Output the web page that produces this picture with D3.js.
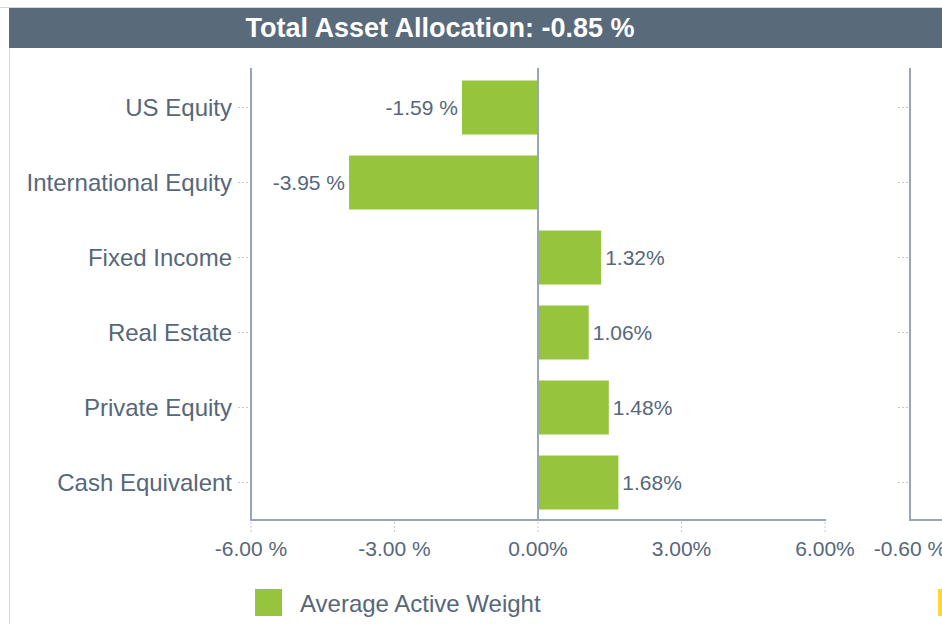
<!DOCTYPE html>
<html>
<head>
<meta charset="utf-8">
<script src="https://cdn.jsdelivr.net/npm/d3@7/dist/d3.min.js"></script>
<style>
  html, body { margin: 0; padding: 0; background: #fff; }
  svg { display: block; font-family: "Liberation Sans", Arial, sans-serif; }
</style>
</head>
<body>
<div id="content"></div>
<script>
const titleText = 'Total Asset Allocation: -0.85 %';
const categories = ['US Equity', 'International Equity', 'Fixed Income', 'Real Estate', 'Private Equity', 'Cash Equivalent'];
const activeWeight = [-1.59, -3.95, 1.32, 1.06, 1.48, 1.68];
const xTicks = [-6, -3, 0, 3, 6];
const rightTicks = [-0.6];
const legendLabel = 'Average Active Weight';

const width = 942, height = 624;
const barColor = '#97c43d';
const axisColor = '#97a6b5';
const textColor = '#56677a';
const dotColor = '#c4c9ce';

// negatives get a space before the % sign, like the original
const pct = d => d < 0 ? d.toFixed(2) + ' %' : d.toFixed(2) + '%';

const svg = d3.select('#content').append('svg')
  .attr('width', width).attr('height', height);

// frame + header
svg.append('line').attr('x1', 0).attr('x2', width).attr('y1', 7.5).attr('y2', 7.5)
  .attr('stroke', '#d3d8dd').attr('stroke-width', 1);
svg.append('line').attr('x1', 9.5).attr('x2', 9.5).attr('y1', 8).attr('y2', height)
  .attr('stroke', '#d3d8dd').attr('stroke-width', 1);
svg.append('rect').attr('x', 9).attr('y', 8).attr('width', width - 9).attr('height', 40)
  .attr('fill', '#596a7a');
svg.append('text').attr('x', 440).attr('y', 37).attr('text-anchor', 'middle')
  .attr('fill', '#fff').style('font-size', '27px').style('font-weight', 'bold')
  .text(titleText);

// main chart
const x = d3.scaleLinear().domain([-6, 6]).range([251, 825]);
const y = d3.scaleBand().domain(categories).range([70, 520]).paddingInner(0.28).paddingOuter(0.14);
const mid = d => y(d) + y.bandwidth() / 2;

const g = svg.append('g');

// category tick dots
g.selectAll('.ydot').data(categories).join('line')
  .attr('x1', 238).attr('x2', 250)
  .attr('y1', mid).attr('y2', mid)
  .attr('stroke', dotColor).attr('stroke-dasharray', '2,2');

g.selectAll('.ylab').data(categories).join('text')
  .attr('x', 232).attr('y', mid)
  .attr('dy', '0.35em').attr('text-anchor', 'end')
  .attr('fill', textColor).style('font-size', '24px')
  .text(d => d);

// x tick dotted marks
g.selectAll('.xdot').data(xTicks).join('line')
  .attr('x1', d => x(d)).attr('x2', d => x(d)).attr('y1', 522).attr('y2', 533)
  .attr('stroke', dotColor).attr('stroke-dasharray', '2,2');

g.selectAll('.xlab').data(xTicks).join('text')
  .attr('x', d => x(d)).attr('y', 556).attr('text-anchor', 'middle')
  .attr('fill', textColor).style('font-size', '21px')
  .text(pct);

// bars
g.selectAll('.bar').data(activeWeight).join('rect')
  .attr('x', d => x(Math.min(0, d)))
  .attr('width', d => Math.abs(x(d) - x(0)))
  .attr('y', (d, i) => y(categories[i]))
  .attr('height', y.bandwidth())
  .attr('fill', barColor);

g.selectAll('.vlab').data(activeWeight).join('text')
  .attr('x', d => d < 0 ? x(d) - 4 : x(d) + 4)
  .attr('y', (d, i) => mid(categories[i]))
  .attr('dy', '0.35em')
  .attr('text-anchor', d => d < 0 ? 'end' : 'start')
  .attr('fill', textColor).style('font-size', '21px')
  .text(pct);

// axes lines
g.append('line').attr('x1', x(0)).attr('x2', x(0)).attr('y1', 68).attr('y2', 520)
  .attr('stroke', axisColor).attr('stroke-width', 2);
g.append('line').attr('x1', 251).attr('x2', 251).attr('y1', 68).attr('y2', 521)
  .attr('stroke', axisColor).attr('stroke-width', 2);
g.append('line').attr('x1', 250).attr('x2', 826).attr('y1', 520).attr('y2', 520)
  .attr('stroke', axisColor).attr('stroke-width', 2);

// second panel (cut off at right edge)
const x2 = d3.scaleLinear().domain([-0.6, 0]).range([910, 1190]);
const g2 = svg.append('g');
g2.selectAll('.ydot2').data(categories).join('line')
  .attr('x1', 898).attr('x2', 909)
  .attr('y1', mid).attr('y2', mid)
  .attr('stroke', dotColor).attr('stroke-dasharray', '2,2');
g2.append('line').attr('x1', 910).attr('x2', 910).attr('y1', 68).attr('y2', 521)
  .attr('stroke', axisColor).attr('stroke-width', 2);
g2.append('line').attr('x1', 909).attr('x2', width).attr('y1', 520).attr('y2', 520)
  .attr('stroke', axisColor).attr('stroke-width', 2);
g2.selectAll('.xlab2').data(rightTicks).join('text')
  .attr('x', d => x2(d)).attr('y', 556).attr('text-anchor', 'middle')
  .attr('fill', textColor).style('font-size', '21px')
  .text(pct);

// legend
svg.append('rect').attr('x', 255).attr('y', 589).attr('width', 27).attr('height', 27).attr('fill', barColor);
svg.append('text').attr('x', 300).attr('y', 612).attr('fill', textColor)
  .style('font-size', '24px').text(legendLabel);
svg.append('rect').attr('x', 938).attr('y', 589).attr('width', 27).attr('height', 27).attr('fill', '#fdd835');
</script>
</body>
</html>
